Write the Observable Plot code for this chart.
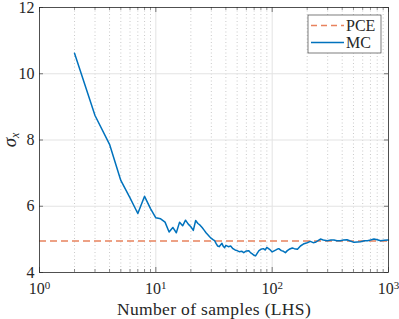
<!DOCTYPE html>
<html><head><meta charset="utf-8">
<script src="https://cdn.jsdelivr.net/npm/d3@7"></script>
<script src="https://cdn.jsdelivr.net/npm/@observablehq/plot@0.6"></script>
<style>
body{margin:0;background:#fff;}
svg, svg text{font-family:"Liberation Serif","DejaVu Serif",serif !important;}
</style>
</head><body><div id="chart"></div>
<script>
const mcN = [2,3,4,5,6,7,8,9,10,11,12,13,14,15,16,17,18,19,20,21,22,23,24,25,26,27,28,29,30,31,32,33,34,35,36,37,38,39,40,42,44,46,48,50,52,55,57,60,63,65,67,70,72,75,77,80,84,87,90,95,100,105,110,114,120,125,130,135,140,149,155,165,175,188,200,213,225,235,248,260,275,297,320,340,360,385,410,440,470,505,540,575,620,660,700,750,800,855,920,990,1000];
const mcSigma = [10.62,8.74,7.87,6.78,6.25,5.78,6.30,5.93,5.65,5.62,5.52,5.22,5.36,5.20,5.52,5.41,5.58,5.46,5.38,5.27,5.57,5.48,5.43,5.36,5.28,5.20,5.14,5.08,5.03,4.99,4.96,4.87,4.80,4.78,4.83,4.88,4.79,4.75,4.82,4.78,4.80,4.72,4.68,4.66,4.63,4.64,4.60,4.65,4.66,4.60,4.57,4.52,4.50,4.60,4.66,4.70,4.72,4.68,4.76,4.70,4.62,4.66,4.70,4.72,4.66,4.64,4.60,4.66,4.70,4.74,4.72,4.70,4.80,4.87,4.90,4.94,4.90,4.91,4.96,5.01,4.98,4.96,4.98,4.98,4.96,4.96,4.98,4.99,4.95,4.91,4.92,4.93,4.96,4.96,4.98,5.01,4.99,4.96,4.97,4.98,4.98];
const pceSigma = 4.95;
const xMajorTicks = [1,10,100,1000];
const xMinorTicks = [2,3,4,5,6,7,8,9,20,30,40,50,60,70,80,90,200,300,400,500,600,700,800,900];
const yTicks = [4,6,8,10,12];
const seriesNames = ["PCE","MC"];

const mc = mcN.map((n,i)=>({n, s:mcSigma[i]}));
const W=399,H=319,mL=39,mR=11,mT=7,mB=47;
const plotH = H-mT-mB;
const axisColor="#262626";
const blue="#0072BD", orange="#E8825E";
const FONT = '"Liberation Serif", "DejaVu Serif", serif';

const plot = Plot.plot({
  width:W, height:H,
  marginLeft:mL, marginRight:mR, marginTop:mT, marginBottom:mB,
  style:{fontFamily:FONT, fontSize:"15px", color:axisColor, background:"#fff"},
  x:{type:"log", domain:[1,1000]},
  y:{domain:[4,12]},
  marks:[
    Plot.ruleX(xMinorTicks,{x:d=>d, stroke:"#bdbdbd", strokeDasharray:"1,2.5", strokeWidth:0.8}),
    Plot.ruleX([10,100],{x:d=>d, stroke:"#e3e3e3", strokeWidth:1}),
    Plot.ruleY([6,8,10],{y:d=>d, stroke:"#e3e3e3", strokeWidth:1}),
    Plot.ruleX(xMajorTicks,{x:d=>d, insetTop:plotH-5, stroke:axisColor, strokeWidth:0.6}),
    Plot.ruleX(xMajorTicks,{x:d=>d, insetBottom:plotH-5, stroke:axisColor, strokeWidth:0.6}),
    Plot.ruleX(xMinorTicks,{x:d=>d, insetTop:plotH-3, stroke:axisColor, strokeWidth:0.5}),
    Plot.ruleX(xMinorTicks,{x:d=>d, insetBottom:plotH-3, stroke:axisColor, strokeWidth:0.5}),
    Plot.ruleY(yTicks,{y:d=>d, insetRight:W-mL-mR-4, stroke:axisColor, strokeWidth:0.6}),
    Plot.ruleY(yTicks,{y:d=>d, insetLeft:W-mL-mR-4, stroke:axisColor, strokeWidth:0.6}),
    Plot.ruleY([pceSigma],{y:d=>d, stroke:orange, strokeWidth:1.5, strokeDasharray:"7,4"}),
    Plot.line(mc,{x:"n", y:"s", stroke:blue, strokeWidth:1.5}),
    Plot.frame({stroke:axisColor, strokeWidth:0.8}),
    Plot.axisX(xMajorTicks,{tickSize:0, tickPadding:10, tickFormat:d=>"10^"+Math.round(Math.log10(d)), fontSize:16, label:null}),
    Plot.axisY(yTicks,{tickSize:0, tickPadding:5, fontSize:16, label:null}),
    Plot.text(["Number of samples (LHS)"],{frameAnchor:"bottom", dy:42, text:d=>d, fontSize:17.5})
  ]
});
document.getElementById("chart").appendChild(plot);
const svg = d3.select(plot);
svg.selectAll('g[aria-label="x-axis tick label"] text').each(function(){
  const t=this.textContent; const p=t.split("^");
  const el=d3.select(this); el.text(null);
  el.append("tspan").text(p[0]);
  el.append("tspan").attr("dy","-0.45em").attr("font-size","11px").text(p[1]);
});
svg.selectAll('g[aria-label="text"] text').attr("letter-spacing","0.35px");
const yl = svg.append("text").attr("transform","translate(16,140) rotate(-90)")
  .attr("text-anchor","middle").attr("font-size","19px").attr("fill",axisColor);
yl.append("tspan").attr("font-style","italic").text("σ");
yl.append("tspan").attr("font-style","italic").attr("font-size","12px").attr("dy","0.25em").text("x");
const lg = svg.append("g").attr("text-anchor","start");
lg.append("rect").attr("x",308).attr("y",15).attr("width",73).attr("height",38).attr("fill","#fff").attr("stroke",axisColor).attr("stroke-width",0.6);
lg.append("line").attr("x1",311).attr("x2",344).attr("y1",25.5).attr("y2",25.5).attr("stroke",orange).attr("stroke-width",1.5).attr("stroke-dasharray","6,4");
lg.append("line").attr("x1",311).attr("x2",344).attr("y1",42.5).attr("y2",42.5).attr("stroke",blue).attr("stroke-width",1.5);
lg.append("text").attr("x",346).attr("y",30.5).attr("font-size","16px").attr("fill",axisColor).text(seriesNames[0]);
lg.append("text").attr("x",346).attr("y",47.5).attr("font-size","16px").attr("fill",axisColor).text(seriesNames[1]);
</script></body></html>
